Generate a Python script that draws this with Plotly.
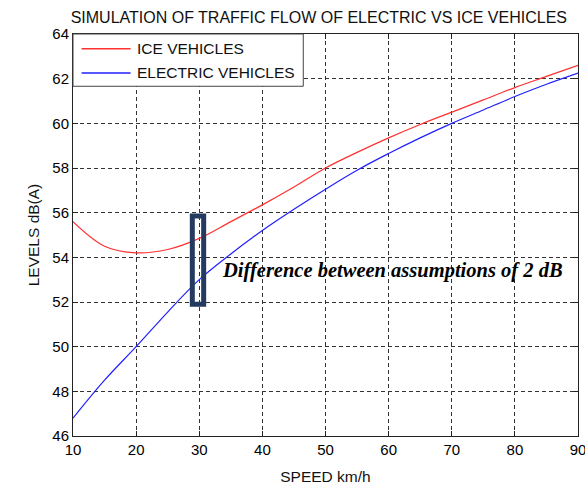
import plotly.graph_objects as go

# Speed (km/h) and simulated noise levels dB(A)
speed = [10, 15, 20, 25, 30, 35, 40, 45, 50, 55, 60, 65, 70, 75, 80, 85, 90]
ice_levels = [55.6, 54.5, 54.2, 54.35, 54.85, 55.6, 56.35, 57.15, 58.0, 58.7,
              59.35, 59.95, 60.5, 61.05, 61.6, 62.1, 62.6]
electric_levels = [46.8, 48.5, 50.0, 51.55, 53.0, 54.15, 55.2, 56.15, 57.05, 57.9,
                   58.65, 59.35, 60.0, 60.6, 61.2, 61.75, 62.25]

x_ticks = [10, 20, 30, 40, 50, 60, 70, 80, 90]
y_ticks = [46, 48, 50, 52, 54, 56, 58, 60, 62, 64]

series_names = ["ICE VEHICLES", "ELECTRIC VEHICLES"]
series_colors = ["#ff3030", "#2020ff"]

# Highlighted speed and the gap between assumptions
focus_speed = 30
focus_low, focus_high = 51.9, 55.85
note_text = "Difference between assumptions of 2 dB"

FONT = "Liberation Sans, Arial, sans-serif"

fig = go.Figure()
for name, ys, col in zip(series_names, [ice_levels, electric_levels], series_colors):
    fig.add_trace(go.Scatter(x=speed, y=ys, mode="lines", name=name,
                             line=dict(color=col, width=1.2, shape="spline"),
                             showlegend=False))

axis_common = dict(
    showline=True, linecolor="#222", linewidth=1, mirror="allticks",
    ticks="inside", ticklen=5, tickcolor="#222",
    showgrid=True, gridcolor="#333", gridwidth=1, griddash="4px,3px",
    zeroline=False, tickfont=dict(family=FONT, size=15, color="#000"),
    ticklabeloverflow="allow", automargin=False,
)

fig.update_xaxes(range=[10, 90], tickvals=x_ticks, **axis_common,
                 title=dict(text="SPEED km/h", font=dict(family=FONT, size=15.5, color="#111"),
                            standoff=14))
fig.update_yaxes(range=[46, 64], tickvals=y_ticks, **axis_common,
                 title=dict(text="LEVELS dB(A)", font=dict(family=FONT, size=15.5, color="#111"),
                            standoff=8))

# Rectangle around the 30 km/h gap
fig.add_shape(type="rect", xref="x", yref="y",
              x0=focus_speed - 1.1, x1=focus_speed + 0.7, y0=focus_low, y1=focus_high,
              line=dict(color="#243a5e", width=5), fillcolor="rgba(0,0,0,0)", layer="above")

fig.add_annotation(x=33.3, y=53.43, xref="x", yref="y", text="<b><i>" + note_text + "</i></b>",
                   showarrow=False, xanchor="left", yanchor="middle",
                   font=dict(family="Liberation Serif, Times New Roman, serif", size=20.5, color="#000"))

# Legend box drawn in axis-domain coordinates
leg_x0, leg_x1 = 0.0, 0.456
leg_y0, leg_y1 = 0.87, 1.0
fig.add_shape(type="rect", xref="x domain", yref="y domain",
              x0=leg_x0, x1=leg_x1, y0=leg_y0, y1=leg_y1,
              line=dict(color="#444", width=1), fillcolor="white", layer="above")
for i, (name, col) in enumerate(zip(series_names, series_colors)):
    yy = 0.963 - i * 0.06
    fig.add_shape(type="line", xref="x domain", yref="y domain",
                  x0=0.017, x1=0.114, y0=yy, y1=yy,
                  line=dict(color=col, width=1.5), layer="above")
    fig.add_annotation(xref="x domain", yref="y domain", x=0.122, y=yy, text=name,
                       showarrow=False, xanchor="left", yanchor="middle",
                       font=dict(family=FONT, size=15.5, color="#111"))

fig.update_layout(
    width=585, height=487,
    margin=dict(l=73, r=7, t=34, b=51),
    paper_bgcolor="white", plot_bgcolor="white",
    title=dict(text="SIMULATION OF TRAFFIC FLOW OF ELECTRIC VS ICE VEHICLES",
               x=0.545, xanchor="center", y=0.965, yanchor="middle",
               font=dict(family=FONT, size=16, color="#111")),
)

fig.write_html("out.html")
